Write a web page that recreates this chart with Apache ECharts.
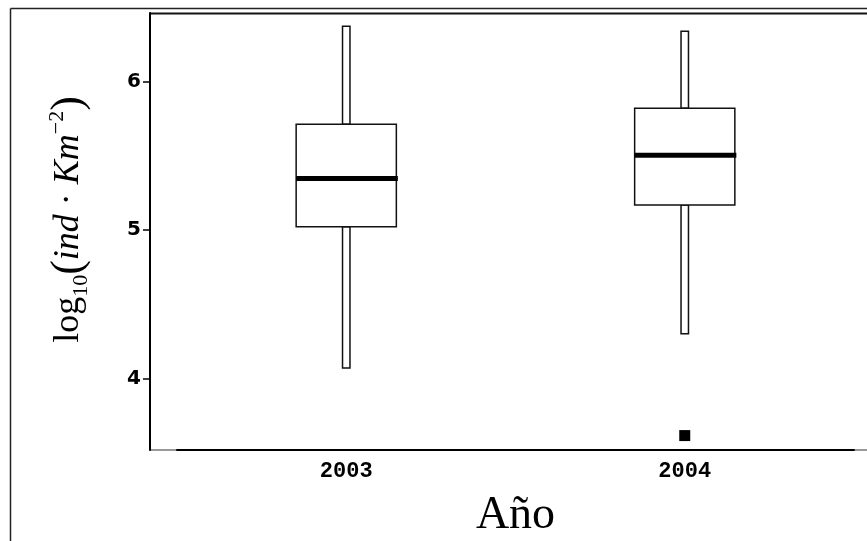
<!DOCTYPE html>
<html>
<head>
<meta charset="utf-8">
<script src="https://cdn.jsdelivr.net/npm/echarts@6/dist/echarts.min.js"></script>
<style>
  html, body { margin: 0; padding: 0; background: #fff; }
  #chart { width: 867px; height: 541px; }
</style>
</head>
<body>
<div id="chart"></div>
<script>
// Yearly density summaries, log10(ind·Km^-2)
const years = ['2003', '2004'];
const whiskerLow = [4.072, 4.302];
const q1 = [5.022, 5.168];
const median = [5.347, 5.503];
const q3 = [5.711, 5.819];
const whiskerHigh = [6.371, 6.338];
const outlierYear = ['2004'];
const outlierValue = [3.617];
const yTicks = [4, 5, 6];

const boxData = years.map((y, i) => [i, whiskerLow[i], q1[i], median[i], q3[i], whiskerHigh[i]]);
const outlierData = outlierYear.map((y, i) => [y, outlierValue[i]]);

const serif = 'Liberation Serif';

// Box with whiskers drawn as thin open rectangles
function renderBox(params, api) {
  const i = api.value(0);
  const band = api.size([1, 0])[0];
  const cx = api.coord([i, 0])[0];
  const py = k => api.coord([i, api.value(k)])[1];
  const yLow = py(1), yQ1 = py(2), yMed = py(3), yQ3 = py(4), yHigh = py(5);
  const boxHalf = band * 0.148;
  const whHalf = band * 0.011;
  const outline = { fill: '#fff', stroke: '#111', lineWidth: 1.5 };
  return {
    type: 'group',
    children: [
      { type: 'rect', shape: { x: cx - whHalf, y: yHigh, width: 2 * whHalf, height: yQ3 - yHigh }, style: outline },
      { type: 'rect', shape: { x: cx - whHalf, y: yQ1, width: 2 * whHalf, height: yLow - yQ1 }, style: outline },
      { type: 'rect', shape: { x: cx - boxHalf, y: yQ3, width: 2 * boxHalf, height: yQ1 - yQ3 }, style: outline },
      { type: 'line', shape: { x1: cx - boxHalf, y1: yMed, x2: cx + boxHalf + 1.5, y2: yMed },
        style: { stroke: '#000', lineWidth: 5 } }
    ]
  };
}

const chart = echarts.init(document.getElementById('chart'), null, { renderer: 'canvas' });
chart.setOption({
  animation: false,
  backgroundColor: '#fff',
  grid: { left: 177, right: 13, top: 13, bottom: 91, containLabel: false, outerBoundsMode: 'none' },
  graphic: [
    { type: 'line', silent: true, shape: { x1: 10.5, y1: 8.5, x2: 867, y2: 8.5 }, style: { stroke: '#222', lineWidth: 1.5 } },
    { type: 'line', silent: true, shape: { x1: 10.5, y1: 8.5, x2: 10.5, y2: 541 }, style: { stroke: '#222', lineWidth: 1.5 } },
    { type: 'line', silent: true, shape: { x1: 150, y1: 13.5, x2: 867, y2: 13.5 }, style: { stroke: '#111', lineWidth: 1.8 } },
    { type: 'line', silent: true, shape: { x1: 150, y1: 450, x2: 177, y2: 450 }, style: { stroke: '#999', lineWidth: 2 } },
    { type: 'line', silent: true, shape: { x1: 853, y1: 450, x2: 867, y2: 450 }, style: { stroke: '#999', lineWidth: 2 } }
  ],
  xAxis: {
    type: 'category',
    data: years,
    axisLine: { lineStyle: { color: '#000', width: 2 } },
    axisTick: { alignWithLabel: true, length: 6, lineStyle: { color: '#000', width: 1.5 } },
    axisLabel: { margin: 10, fontFamily: 'Liberation Mono', fontWeight: 'bold', fontSize: 22, color: '#000' },
    splitLine: { show: false },
    name: 'Año',
    nameLocation: 'middle',
    nameGap: 43,
    nameTextStyle: { fontFamily: serif, fontSize: 46, color: '#000' }
  },
  yAxis: {
    type: 'value',
    min: 3.52,
    max: 6.46,
    offset: 27,
    axisLine: { show: true, lineStyle: { color: '#000', width: 2 } },
    axisTick: { show: true, length: 7, customValues: yTicks, lineStyle: { color: '#000', width: 1.5 } },
    axisLabel: { customValues: yTicks, margin: 9, fontFamily: 'DejaVu Sans', fontWeight: 'bold', fontSize: 20, color: '#000' },
    splitLine: { show: false },
    name: '{n|log}{sub|10}{p|(}{it|ind}{n| · }{it|Km}{sup|−2}{p|)}',
    nameLocation: 'middle',
    nameRotate: 90,
    nameGap: 58,
    nameTextStyle: {
      color: '#000',
      padding: [0, 0, 0, 24],
      rich: {
        n: { fontFamily: serif, fontSize: 36, lineHeight: 46, color: '#000' },
        sub: { fontFamily: serif, fontSize: 22, lineHeight: 22, verticalAlign: 'bottom', color: '#000' },
        p: { fontFamily: serif, fontSize: 44, lineHeight: 46, color: '#000' },
        it: { fontFamily: serif, fontStyle: 'italic', fontSize: 36, lineHeight: 46, color: '#000' },
        sup: { fontFamily: serif, fontSize: 22, lineHeight: 22, verticalAlign: 'top', color: '#000' }
      }
    }
  },
  series: [
    {
      type: 'custom',
      renderItem: renderBox,
      encode: { x: 0, y: [1, 2, 3, 4, 5] },
      data: boxData,
      z: 2
    },
    {
      type: 'scatter',
      symbol: 'rect',
      symbolSize: 11,
      itemStyle: { color: '#000', opacity: 1 },
      data: outlierData,
      z: 3
    }
  ]
});
</script>
</body>
</html>
